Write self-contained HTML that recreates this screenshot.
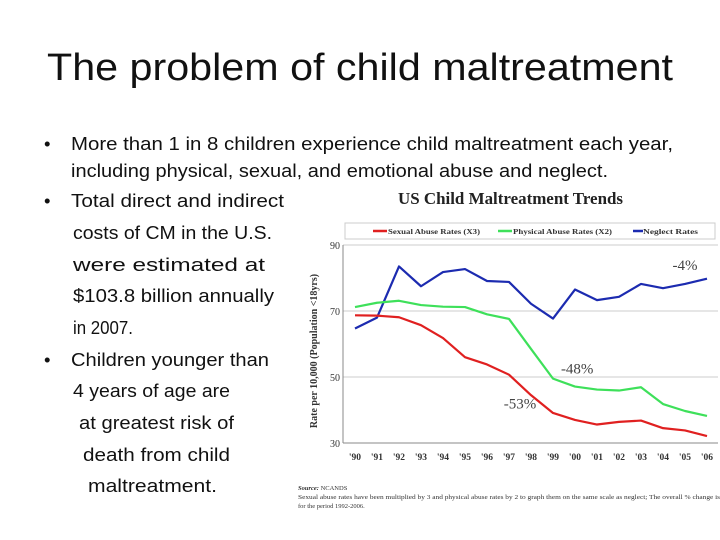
<!DOCTYPE html>
<html><head><meta charset="utf-8"><style>
html,body{margin:0;padding:0;background:#fff;}
svg{display:block;}
.b{font-family:"Liberation Sans",sans-serif;font-size:18.5px;fill:#111;}
.s{font-family:"Liberation Serif",serif;}
</style></head><body>
<svg id="slide" width="720" height="540" viewBox="0 0 720 540">
<text x="47" y="80" textLength="626" lengthAdjust="spacingAndGlyphs" font-family="Liberation Sans, sans-serif" font-size="38" fill="#111">The problem of child maltreatment</text>
<g>
<text class="b" x="44" y="150">•</text><text class="b" x="44" y="207">•</text><text class="b" x="44" y="366">•</text>
<text class="b" x="71" y="150" textLength="602" lengthAdjust="spacingAndGlyphs">More than 1 in 8 children experience child maltreatment each year,</text>
<text class="b" x="71" y="177" textLength="537" lengthAdjust="spacingAndGlyphs">including physical, sexual, and emotional abuse and neglect.</text>
<text class="b" x="71" y="207" textLength="213" lengthAdjust="spacingAndGlyphs">Total direct and indirect</text>
<text class="b" x="73" y="239" textLength="199" lengthAdjust="spacingAndGlyphs">costs of CM in the U.S.</text>
<text class="b" x="73" y="271" textLength="192" lengthAdjust="spacingAndGlyphs">were estimated at</text>
<text class="b" x="73" y="302" textLength="201" lengthAdjust="spacingAndGlyphs">$103.8 billion annually</text>
<text class="b" x="73" y="334" textLength="60" lengthAdjust="spacingAndGlyphs">in 2007.</text>
<text class="b" x="71" y="366" textLength="198" lengthAdjust="spacingAndGlyphs">Children younger than</text>
<text class="b" x="73" y="397" textLength="157" lengthAdjust="spacingAndGlyphs">4 years of age are</text>
<text class="b" x="79" y="429" textLength="155" lengthAdjust="spacingAndGlyphs">at greatest risk of</text>
<text class="b" x="83" y="461" textLength="147" lengthAdjust="spacingAndGlyphs">death from child</text>
<text class="b" x="88" y="492" textLength="129" lengthAdjust="spacingAndGlyphs">maltreatment.</text>
</g>
<text class="s" x="398" y="204" textLength="225" lengthAdjust="spacingAndGlyphs" font-size="16.5" font-weight="bold" fill="#222">US Child Maltreatment Trends</text>
<g>
<rect x="345" y="223" width="370" height="16" fill="#fff" stroke="#ccc"/>
<line x1="373" y1="231" x2="387" y2="231" stroke="#e02020" stroke-width="2.5"/>
<text class="s" x="388" y="234" font-size="7.5" textLength="92" lengthAdjust="spacingAndGlyphs" font-weight="bold" fill="#333">Sexual Abuse Rates (X3)</text>
<line x1="498" y1="231" x2="512" y2="231" stroke="#3ee05a" stroke-width="2.5"/>
<text class="s" x="513" y="234" font-size="7.5" textLength="99" lengthAdjust="spacingAndGlyphs" font-weight="bold" fill="#333">Physical Abuse Rates (X2)</text>
<line x1="633" y1="231" x2="643" y2="231" stroke="#1c2bb0" stroke-width="2.5"/>
<text class="s" x="643" y="234" font-size="7.5" textLength="55" lengthAdjust="spacingAndGlyphs" font-weight="bold" fill="#333">Neglect Rates</text>
</g>
<text class="s" transform="translate(317,351) rotate(-90)" text-anchor="middle" font-size="10" font-weight="bold" fill="#333">Rate per 10,000 (Population &lt;18yrs)</text>
<g id="plot"></g>
<text class="s" x="298" y="490" font-size="6.5" fill="#333"><tspan font-style="italic" font-weight="bold">Source:</tspan> NCANDS</text>
<text class="s" x="298" y="499" font-size="6.5" textLength="422" lengthAdjust="spacingAndGlyphs" fill="#333">Sexual abuse rates have been multiplied by 3 and physical abuse rates by 2 to graph them on the same scale as neglect; The overall % change is</text>
<text class="s" x="298" y="508" font-size="6.5" fill="#333">for the period 1992-2006.</text>
</svg>
<script>
const categories=["'90","'91","'92","'93","'94","'95","'96","'97","'98","'99","'00","'01","'02","'03","'04","'05","'06"];
const neglect=[64.7,68,83.5,77.5,81.8,82.7,79.1,78.8,72.2,67.7,76.5,73.3,74.3,78.2,76.9,78.2,79.8];
const physical=[71.2,72.5,73.1,71.8,71.3,71.2,69,67.6,58.5,49.5,47.1,46.2,45.9,46.9,41.8,39.7,38.2];
const sexual=[68.7,68.6,68.1,65.7,61.8,56,53.8,50.7,44.5,39.1,37,35.6,36.4,36.8,34.5,33.8,32.1];
const yTicks=[30,50,70,90];
const annotations=[{label:"-4%",i:15,v:82.5},{label:"-48%",i:10.1,v:51},{label:"-53%",i:7.5,v:40.5}];
const NS="http://www.w3.org/2000/svg";
const g=document.getElementById('plot');
const X0=343,X1=718,Y0=443,Y1=245;
const x=i=>355+i*22;
const y=v=>Y0-(v-30)/60*(Y0-Y1);
function mk(t,a){const e=document.createElementNS(NS,t);for(const k in a)e.setAttribute(k,a[k]);g.appendChild(e);return e;}
yTicks.forEach(t=>{
 const l=mk('line',{x1:X0,x2:X1,y1:y(t),y2:y(t),stroke:t===30?'#888':'#ccc','stroke-width':1});
 
 
 const tx=mk('text',{x:X0-3,y:y(t)+4,'text-anchor':'end','font-family':'Liberation Serif,serif','font-size':10,fill:'#333'});
 tx.textContent=t;
 
 
});
const ax=mk('line',{x1:X0,x2:X0,y1:Y1,y2:Y0,stroke:'#888'});


const xa=mk('line',{x1:X0,x2:X1,y1:Y0,y2:Y0,stroke:'#888'});


categories.forEach((c,i)=>{
 const tx=mk('text',{x:x(i),y:460,'text-anchor':'middle','font-family':'Liberation Serif,serif','font-size':9.5,'font-weight':'bold',fill:'#333'});
 tx.textContent=c;
 
 
});
[[neglect,'#1c2bb0','neglect-line'],[physical,'#3ee05a','physical-abuse-line'],[sexual,'#e02020','sexual-abuse-line']].forEach(([d,c,n])=>{
 const p=mk('polyline',{points:d.map((v,i)=>x(i)+','+y(v)).join(' '),fill:'none',stroke:c,'stroke-width':2.2,'stroke-linejoin':'round'});
 
 
});
annotations.forEach(a=>{
 const tx=mk('text',{x:x(a.i),y:y(a.v),'text-anchor':'middle','font-family':'Liberation Serif,serif','font-size':15,fill:'#444'});
 tx.textContent=a.label;
 
 
});
</script>
</body></html>
